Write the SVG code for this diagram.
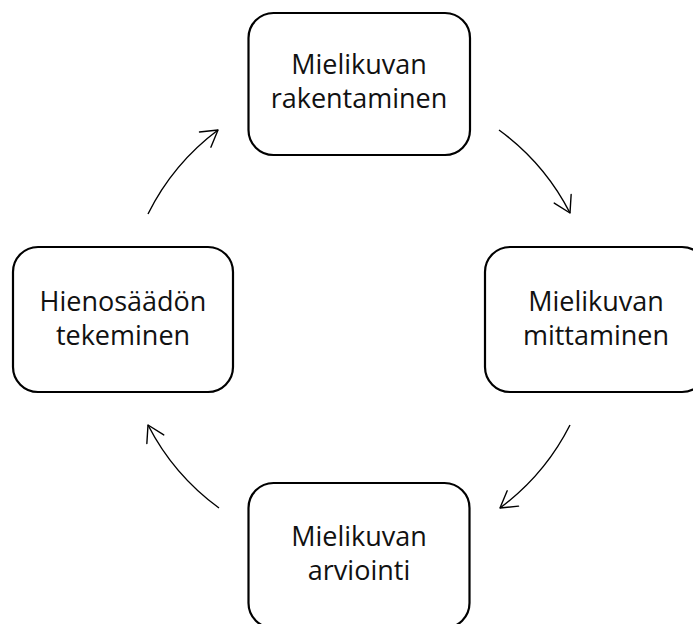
<svg xmlns="http://www.w3.org/2000/svg" width="693" height="624" viewBox="0 0 693 624">
  <defs>
    <style>
      .box { fill: #ffffff; stroke: #000000; stroke-width: 2.2; }
      .label { font-family: "Open Sans", "Liberation Sans", sans-serif; font-size: 27px; fill: #111111; text-anchor: middle; }
      .arc { fill: none; stroke: #000000; stroke-width: 1.4; marker-end: url(#openHead); }
    </style>
    <marker id="openHead" markerUnits="userSpaceOnUse" markerWidth="30" markerHeight="30" refX="0" refY="0" viewBox="-20 -15 25 30" orient="auto" overflow="visible">
      <path d="M-16,-9.5 L0,0 L-16,9.5" fill="none" stroke="#000000" stroke-width="1.4" stroke-linecap="round" stroke-linejoin="round"/>
    </marker>
  </defs>

  <rect width="693" height="624" fill="#ffffff"/>

  <!-- cycle arrows: arcs of one circle around (359,320) -->
  <g id="connectors">
    <path class="arc" d="M499,130 A236,236 0 0 1 570,213"/>
    <path class="arc" d="M570,425 A236,236 0 0 1 500,508"/>
    <path class="arc" d="M219,508 A236,236 0 0 1 148,425"/>
    <path class="arc" d="M148,214 A236,236 0 0 1 218,130"/>
  </g>

  <g id="node-rakentaminen">
    <rect class="box" x="248.5" y="13" width="221.5" height="142" rx="25" ry="25"/>
    <text class="label" x="359" y="74">Mielikuvan</text>
    <text class="label" x="359" y="108">rakentaminen</text>
  </g>

  <g id="node-mittaminen">
    <rect class="box" x="485" y="247" width="222" height="145" rx="25" ry="25"/>
    <text class="label" x="596" y="311">Mielikuvan</text>
    <text class="label" x="596" y="345">mittaminen</text>
  </g>

  <g id="node-arviointi">
    <rect class="box" x="248.5" y="483" width="221" height="145" rx="25" ry="25"/>
    <text class="label" x="359" y="546">Mielikuvan</text>
    <text class="label" x="359" y="580">arviointi</text>
  </g>

  <g id="node-hienosaato">
    <rect class="box" x="13" y="247" width="220" height="145" rx="25" ry="25"/>
    <text class="label" x="123" y="311">Hienosäädön</text>
    <text class="label" x="123" y="345">tekeminen</text>
  </g>
</svg>
